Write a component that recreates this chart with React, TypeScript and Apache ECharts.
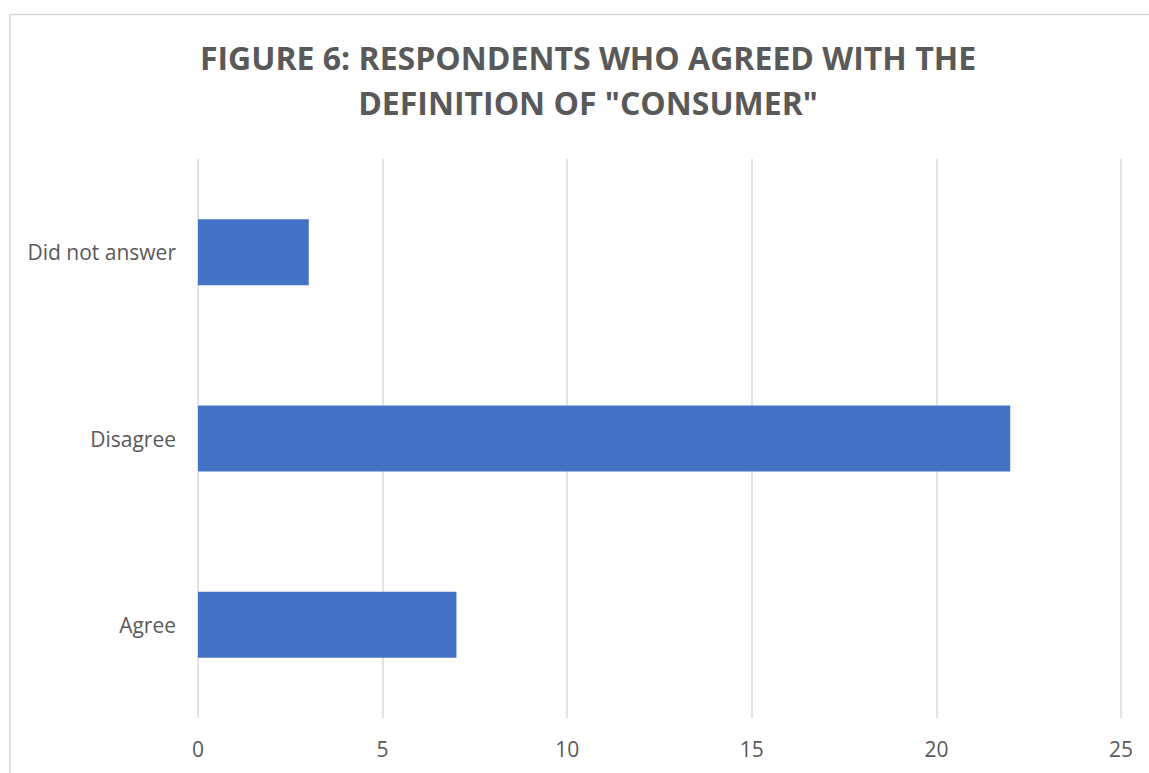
import React, { useEffect, useRef } from "react";
import * as echarts from "echarts";

const categories = ["Agree", "Disagree", "Did not answer"];
const values = [7, 22, 3];
const titleLines = ["FIGURE 6: RESPONDENTS WHO AGREED WITH THE", "DEFINITION OF \"CONSUMER\""];

export default function App() {
  const ref = useRef<HTMLDivElement>(null);
  useEffect(() => {
    if (!ref.current) return;
    const chart = echarts.init(ref.current, undefined, { renderer: "svg" });
    chart.setOption({
      animation: false,
      backgroundColor: "#ffffff",
      title: {
        text: titleLines.join("\n"),
        left: 583,
        top: 30,
        textAlign: "center",
        textStyle: {
          fontFamily: "Open Sans",
          fontWeight: "bold",
          fontSize: 32,
          lineHeight: 45,
          color: "#595959",
        },
      },
      graphic: [
        {
          type: "rect",
          shape: { x: 10, y: 14.5, width: 1160, height: 800 },
          style: { fill: "none", stroke: "#d9d9d9", lineWidth: 1.5 },
          silent: true,
          z: -1,
        },
      ],
      grid: { left: 198, right: 28, top: 159, bottom: 55, containLabel: false },
      xAxis: {
        type: "value",
        min: 0,
        max: 25,
        interval: 5,
        axisLine: { show: false },
        axisTick: { show: false },
        splitLine: { show: true, lineStyle: { color: "#d9d9d9", width: 1.5 } },
        axisLabel: { color: "#595959", fontFamily: "Open Sans", fontSize: 21, margin: 20 },
      },
      yAxis: {
        type: "category",
        data: categories,
        axisLine: { show: false },
        axisTick: { show: false },
        axisLabel: { color: "#595959", fontFamily: "Open Sans", fontSize: 21, margin: 22 },
      },
      series: [
        {
          type: "bar",
          data: values,
          barWidth: 66,
          itemStyle: { color: "#4472C4" },
        },
      ],
    });
    return () => chart.dispose();
  }, []);
  return (
    <div
      ref={ref}
      style={{ position: "absolute", left: 0, top: 0, width: 1149, height: 773 }}
    />
  );
}
